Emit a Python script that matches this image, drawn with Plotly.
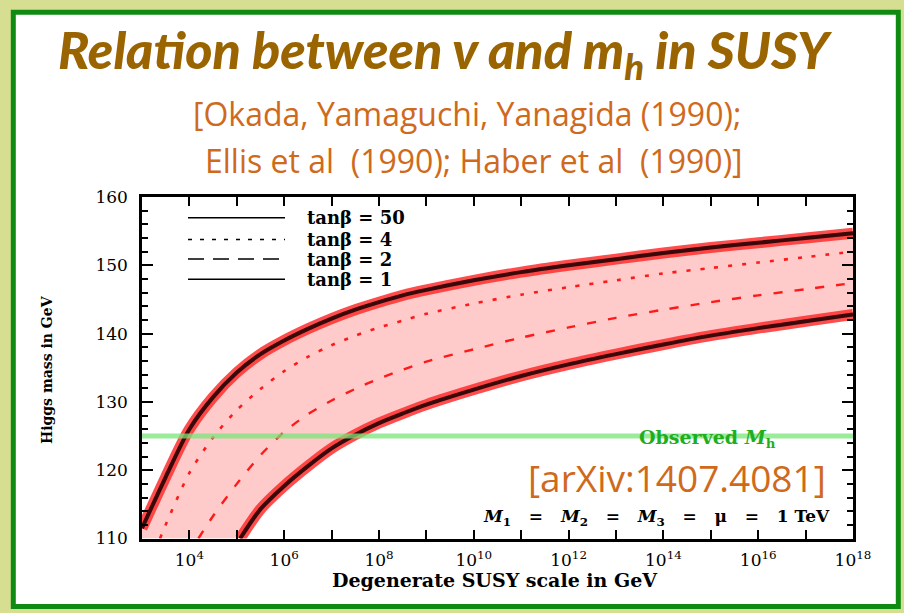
import plotly.graph_objects as go

# ---------------- data ----------------
# log10 of the degenerate SUSY scale (GeV) and Higgs mass (GeV)
tb50_exp = [3, 3.5, 4, 4.5, 5, 5.5, 6, 6.5, 7, 7.5, 8, 8.5, 9, 10, 11, 12, 13, 14, 15, 16, 17, 18]
tb50_mh = [111.5, 119, 126, 130.7, 134.3, 137, 139, 140.7, 142.2, 143.5, 144.6, 145.6, 146.4,
           147.8, 149, 150, 150.9, 151.8, 152.6, 153.3, 154, 154.7]

tb4_exp = [3.38, 3.5, 4, 4.5, 5, 5.5, 6, 6.5, 7, 7.5, 8, 8.5, 9, 10, 11, 12, 13, 14, 15, 16, 17, 18]
tb4_mh = [110, 112, 119.6, 124.8, 128.8, 131.9, 134.5, 136.6, 138.3, 139.7, 140.9, 141.9, 142.9,
          144.4, 145.7, 146.8, 147.8, 148.8, 149.6, 150.4, 151.2, 152]

tb2_exp = [4.19, 4.5, 5, 5.5, 6, 6.5, 7, 7.5, 8, 8.5, 9, 10, 11, 12, 13, 14, 15, 16, 17, 18]
tb2_mh = [110, 113.3, 118, 122.2, 125.6, 128.2, 130.2, 131.9, 133.4, 134.7, 135.9, 137.7,
          139.4, 140.9, 142.3, 143.5, 144.6, 145.6, 146.5, 147.4]

tb1_exp = [5.07, 5.5, 6, 6.5, 7, 7.5, 8, 8.5, 9, 10, 11, 12, 13, 14, 15, 16, 17, 18]
tb1_mh = [110, 114.3, 117.7, 120.6, 123.2, 125.2, 126.9, 128.3, 129.6, 131.8, 133.8, 135.5,
          137, 138.4, 139.7, 140.8, 141.8, 142.8]

observed_mh = 125
x_range_exp = [3, 18]
y_range = [110, 160]

x_tick_exp = [3, 4, 5, 6, 7, 8, 9, 10, 11, 12, 13, 14, 15, 16, 17, 18]
x_tick_labels = ["", "10<sup>4</sup>", "", "10<sup>6</sup>", "", "10<sup>8</sup>", "",
                 "10<sup>10</sup>", "", "10<sup>12</sup>", "", "10<sup>14</sup>", "",
                 "10<sup>16</sup>", "", "10<sup>18</sup>"]
legend_labels = ["tanβ = 50", "tanβ = 4", "tanβ = 2", "tanβ = 1"]


def q(exps):
    return [10 ** e for e in exps]


W, H = 904, 613


def px(x):
    return x / W


def py(y):
    return 1 - y / H


SERIF = "DejaVu Serif"
RED = "#ff1a1a"
SPL = dict(shape="spline", smoothing=0.8)

fig = go.Figure()

# pink band between tanβ=50 and tanβ=1
fig.add_trace(go.Scatter(
    x=q(tb50_exp) + q(tb1_exp[::-1]) + q([x_range_exp[0]]),
    y=tb50_mh + tb1_mh[::-1] + [y_range[0]],
    fill="toself", fillcolor="#ffcaca", line=dict(width=0), mode="lines",
    hoverinfo="skip", showlegend=False))

# tanβ = 4 (dotted) and tanβ = 2 (dashed)
fig.add_trace(go.Scatter(x=q(tb4_exp), y=tb4_mh, mode="lines",
                         line=dict(color=RED, width=2.6, dash="4px,10px", **SPL),
                         showlegend=False))
fig.add_trace(go.Scatter(x=q(tb2_exp), y=tb2_mh, mode="lines",
                         line=dict(color=RED, width=2.4, dash="9px,12px", **SPL),
                         showlegend=False))

# tanβ = 50 and tanβ = 1 : red glow + dark core
for ex, mh in [(tb50_exp, tb50_mh), (tb1_exp, tb1_mh)]:
    fig.add_trace(go.Scatter(x=q(ex), y=mh, mode="lines",
                             line=dict(color="rgba(255,45,45,0.85)", width=11, **SPL),
                             showlegend=False))
    fig.add_trace(go.Scatter(x=q(ex), y=mh, mode="lines",
                             line=dict(color="#3a0808", width=4, **SPL),
                             showlegend=False))

# observed Higgs mass
fig.add_trace(go.Scatter(x=q(x_range_exp), y=[observed_mh, observed_mh], mode="lines",
                         line=dict(color="rgba(120,230,120,0.75)", width=5),
                         showlegend=False))

axis_common = dict(showline=True, linecolor="black", linewidth=2.5, mirror="ticks",
                   ticks="inside", tickcolor="black", tickwidth=2,
                   showgrid=False, zeroline=False, automargin=False,
                   tickfont=dict(family=SERIF, size=17, color="black"))

fig.update_layout(
    template="none",
    width=W, height=H, autosize=False,
    margin=dict(l=0, r=0, t=0, b=0, pad=0),
    paper_bgcolor="#d6de92", plot_bgcolor="white",
    xaxis=dict(type="log", range=x_range_exp, domain=[px(142), px(853)],
               tickvals=q(x_tick_exp), ticktext=x_tick_labels, ticklen=9,
               ticklabelstandoff=4, **axis_common),
    yaxis=dict(range=y_range, domain=[py(538.5), py(197)], dtick=10, ticklen=11,
               ticklabelstandoff=8,
               minor=dict(dtick=2, ticklen=6, ticks="inside", tickcolor="black", tickwidth=2),
               **axis_common),
    showlegend=False,
)

shapes = [dict(type="rect", xref="paper", yref="paper", layer="below",
               x0=px(13.3), x1=px(898.3), y0=py(606.5), y1=py(12.3),
               fillcolor="white", line=dict(color="#0f8a12", width=5))]

# custom legend (black line samples)
leg_y = [217.7, 239.5, 259, 279.3]
leg_dash = ["solid", "4px,8px", "16px,9px", "solid"]
for yy, dsh in zip(leg_y, leg_dash):
    shapes.append(dict(type="line", xref="paper", yref="paper",
                       x0=px(188), x1=px(285), y0=py(yy), y1=py(yy),
                       line=dict(color="black", width=1.6, dash=dsh)))
fig.update_layout(shapes=shapes)

ann = []
for yy, lab in zip(leg_y, legend_labels):
    ann.append(dict(text=lab, x=px(305), y=py(yy), xref="paper", yref="paper",
                    xanchor="left", yanchor="middle", showarrow=False,
                    font=dict(family=SERIF, size=18, color="black", weight="bold")))

NB = "&nbsp;&nbsp;&nbsp;"
ann += [
    dict(text="<i>Relation between v and m<sub>h</sub> in SUSY</i>", x=px(445), y=py(53),
         xref="paper", yref="paper", xanchor="center", yanchor="middle", showarrow=False,
         font=dict(family="Lato", size=52, color="#9a6400", weight=900)),
    dict(text="[Okada, Yamaguchi, Yanagida (1990);", x=px(467), y=py(113),
         xref="paper", yref="paper", xanchor="center", yanchor="middle", showarrow=False,
         font=dict(family="Open Sans", size=32, color="#cf6a1c")),
    dict(text="Ellis et al  (1990); Haber et al  (1990)]", x=px(474), y=py(160),
         xref="paper", yref="paper", xanchor="center", yanchor="middle", showarrow=False,
         font=dict(family="Open Sans", size=32, color="#cf6a1c")),
    dict(text="[arXiv:1407.4081]", x=px(828), y=py(477),
         xref="paper", yref="paper", xanchor="right", yanchor="middle", showarrow=False,
         font=dict(family="Open Sans", size=37, color="#cf6a1c")),
    dict(text=f"<i>M</i><sub>1</sub>{NB}={NB}<i>M</i><sub>2</sub>{NB}={NB}<i>M</i><sub>3</sub>"
              f"{NB}={NB}μ{NB}={NB}1 TeV",
         x=px(832), y=py(517), xref="paper", yref="paper", xanchor="right", yanchor="middle",
         showarrow=False, font=dict(family=SERIF, size=17, color="black", weight="bold")),
    dict(text="Observed <i>M</i><sub>h</sub>", x=px(707), y=py(438),
         xref="paper", yref="paper", xanchor="center", yanchor="middle", showarrow=False,
         font=dict(family=SERIF, size=19, color="#1fae1f", weight="bold")),
    dict(text="Higgs mass in GeV", x=px(47), y=py(370), textangle=-90,
         xref="paper", yref="paper", xanchor="center", yanchor="middle", showarrow=False,
         font=dict(family=SERIF, size=14, color="black", weight="bold")),
    dict(text="Degenerate SUSY scale in GeV", x=px(495), y=py(580),
         xref="paper", yref="paper", xanchor="center", yanchor="middle", showarrow=False,
         font=dict(family=SERIF, size=19, color="black", weight="bold")),
]
fig.update_layout(annotations=ann)

fig.write_html("out.html", config={"displayModeBar": False},
               post_script="document.body.style.margin='0';document.body.style.overflow='hidden';")
